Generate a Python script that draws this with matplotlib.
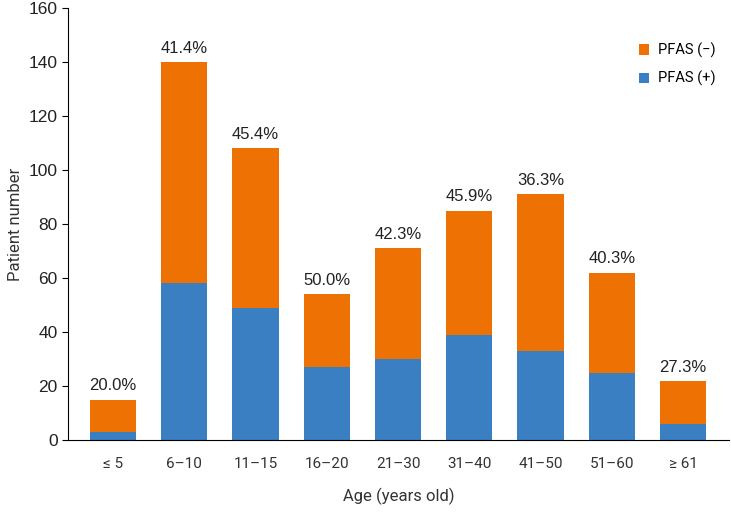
import matplotlib.pyplot as plt
import numpy as np

# age groups and patient counts
ages = ['≤ 5', '6–10', '11–15', '16–20', '21–30', '31–40', '41–50', '51–60', '≥ 61']
pfas_pos = [3, 58, 49, 27, 30, 39, 33, 25, 6]
pfas_neg = [12, 82, 59, 27, 41, 46, 58, 37, 16]
pct_labels = ['20.0%', '41.4%', '45.4%', '50.0%', '42.3%', '45.9%', '36.3%', '40.3%', '27.3%']

blue = '#3A7FC1'
orange = '#EE7203'

fig = plt.figure(figsize=(7.31, 5.24), dpi=100)
ax = fig.add_axes([0.093, 0.160, 0.904, 0.825])

x = np.arange(len(ages))
tot = np.array(pfas_pos) + np.array(pfas_neg)
ax.bar(x, pfas_pos, width=0.65, color=blue, label='PFAS (+)')
ax.bar(x, pfas_neg, width=0.65, bottom=pfas_pos, color=orange, label='PFAS (−)')

for i in range(len(ages)):
    ax.text(x[i], tot[i] + 2.3, pct_labels[i], ha='center', va='bottom',
            fontsize=12, family='Liberation Sans', color='#222222')

ax.set_xlim(-0.63, 8.64)
ax.set_ylim(0, 160)
ax.set_yticks(range(0, 161, 20))
ax.set_xticks(x)
ax.set_xticklabels(ages, family='Roboto', fontsize=11, color='#333333')
for lab in ax.get_yticklabels():
    lab.set_family('Liberation Sans')
    lab.set_fontsize(12.5)
    lab.set_color('#222222')
ax.tick_params(axis='x', length=0, pad=12)
ax.tick_params(axis='y', length=4, direction='out')
ax.spines['top'].set_visible(False)
ax.spines['right'].set_visible(False)

ax.set_ylabel('Patient number', family='Roboto', fontsize=12, color='#333333')
ax.set_xlabel('Age (years old)', family='Roboto', fontsize=12, color='#333333', labelpad=12)

h, l = ax.get_legend_handles_labels()
ax.legend(h[::-1], l[::-1], loc='upper right', bbox_to_anchor=(1.0, 0.95), frameon=False,
          handlelength=0.7, handleheight=0.7, handletextpad=0.6, labelspacing=0.9,
          prop={'family': 'Roboto', 'size': 10.5})

plt.savefig('out.png', dpi=100)
